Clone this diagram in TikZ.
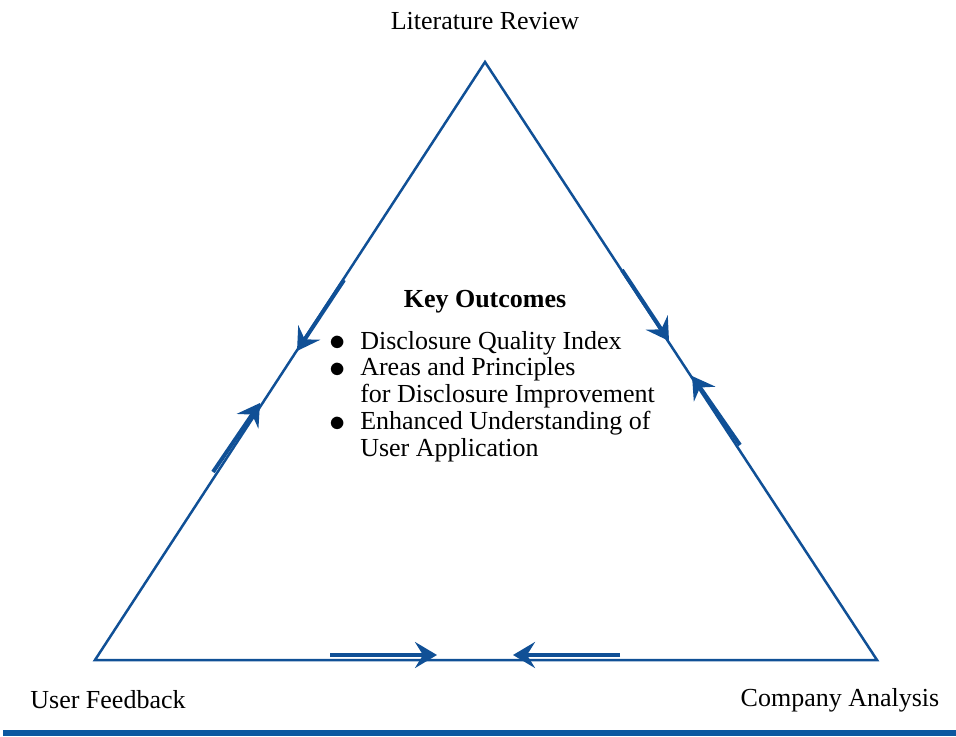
\documentclass[tikz,border=0pt]{standalone}
\usepackage{fontspec}
\setmainfont{Liberation Serif}
\usetikzlibrary{arrows.meta}
\definecolor{tblue}{RGB}{16,80,150}
\definecolor{barblue}{RGB}{12,88,160}
\tikzset{
  edge/.style={draw=tblue, line width=1.25pt, line join=miter},
  flow/.style={draw=tblue, line width=2pt, -{Stealth[length=11pt,width=13pt,inset=4pt]}},
  lbl/.style={font=\fontsize{13}{13.4}\selectfont, inner sep=0pt}
}
\newcommand{\bul}{\makebox[6.5pt]{\raisebox{-0.8pt}{\scalebox{1.35}{$\bullet$}}}}
\begin{document}
\begin{tikzpicture}[x=0.5pt,y=-0.5pt]
\useasboundingbox (0,0) rectangle (956,737);
\coordinate (L) at (485,62);
\coordinate (U) at (95,660);
\coordinate (C) at (877,660);
\draw[edge] (L) -- (U) -- (C) -- cycle;
% arrows
\coordinate (a1s) at (213,472); \coordinate (a1t) at (260,403);
\coordinate (a2s) at (344,280); \coordinate (a2t) at (297,351);
\coordinate (a3s) at (622,270); \coordinate (a3t) at (669,341);
\coordinate (a4s) at (740,445); \coordinate (a4t) at (692,376);
\coordinate (a5s) at (330,655); \coordinate (a5t) at (437,655);
\coordinate (a6s) at (620,655); \coordinate (a6t) at (513,655);
\draw[flow] (a1s) -- (a1t);
\draw[flow] (a2s) -- (a2t);
\draw[flow] (a3s) -- (a3t);
\draw[flow] (a4s) -- (a4t);
\draw[flow] (a5s) -- (a5t);
\draw[flow] (a6s) -- (a6t);
% labels
\node[lbl] (lit) at (485,21) {Literature Review};
\node[lbl] (user) at (108,700) {User Feedback};
\node[lbl] (comp) at (840,700) {Company Analysis};
\node[lbl, font=\fontsize{13}{13.4}\selectfont\bfseries] (key) at (485,302) {Key Outcomes};
\node[lbl, anchor=north west] (list) at (330.5,330) {%
\begin{tabular}{@{}l@{\hspace{8.2pt}}l@{}}
\bul & Disclosure Quality Index\\
\bul & Areas and Principles\\
 & for Disclosure Improvement\\
\bul & Enhanced Understanding of\\
 & User Application
\end{tabular}};
\draw[barblue, line width=2.6pt] (3,733) -- (956,733);
\end{tikzpicture}
\end{document}
